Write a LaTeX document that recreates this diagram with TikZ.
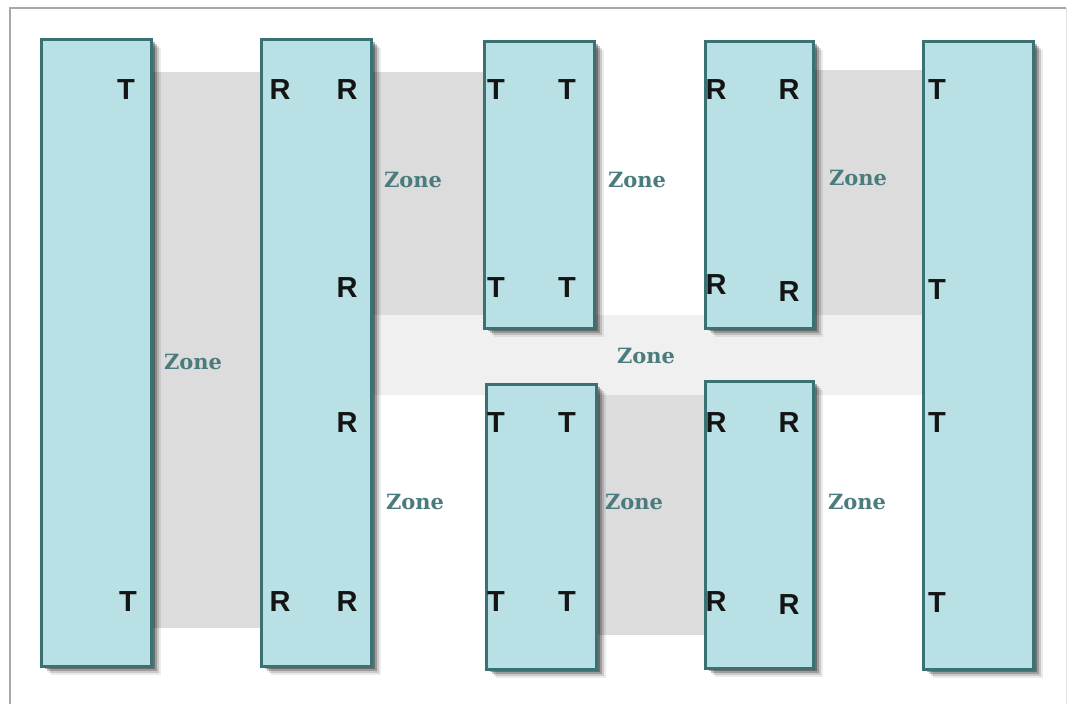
\documentclass[tikz,border=0pt]{standalone}
\usepackage{fontspec}
\setmainfont{Liberation Sans}
\newfontfamily\zonefont{DejaVu Serif}
\usetikzlibrary{shadows}
\definecolor{boxfill}{HTML}{B9E0E4}
\definecolor{boxedge}{HTML}{3A7273}
\definecolor{zonegray}{HTML}{DCDCDC}
\definecolor{zonelight}{HTML}{F0F0F0}
\definecolor{zonetext}{HTML}{4A7C7D}
\definecolor{frameline}{HTML}{A8A8A8}
\begin{document}
\begin{tikzpicture}[x=1pt,y=-1pt,
  box/.style={draw=boxedge, line width=2.5pt, fill=boxfill, inner sep=0pt, anchor=north west,
    drop shadow={shadow xshift=10pt, shadow yshift=-9pt, fill=black, opacity=0.08},
    drop shadow={shadow xshift=8pt, shadow yshift=-7pt, fill=black, opacity=0.14},
    drop shadow={shadow xshift=6pt, shadow yshift=-5pt, fill=black, opacity=0.22},
    drop shadow={shadow xshift=4pt, shadow yshift=-3pt, fill=black, opacity=0.3}},
  lbl/.style={font=\bfseries\fontsize{29}{29}\selectfont, inner sep=0pt, text=black!92},
  zonelbl/.style={font=\zonefont\bfseries\fontsize{21}{21}\selectfont, text=zonetext, inner sep=0pt}]
\useasboundingbox (0,0) rectangle (1071,704);
\fill[white] (0,0) rectangle (1071,704);
% frame
\draw[frameline, line width=1.8pt] (10,704) -- (10,8) -- (1066,8);
\draw[black!12, line width=1pt] (1066,8) -- (1066,704);
% zones
\fill[zonegray] (150,72) rectangle (260,628);
\fill[zonegray] (370,72) rectangle (483,317);
\fill[zonegray] (812,70) rectangle (922,315);
\fill[zonelight] (370,315) rectangle (922,395);
\fill[zonegray] (595,395) rectangle (704,635);
% boxes
\node[box, minimum width=110pt, minimum height=627pt] (b1) at (40,38) {};
\node[box, minimum width=110pt, minimum height=627pt] (b2) at (260,38) {};
\node[box, minimum width=110pt, minimum height=287pt] (b3) at (483,40) {};
\node[box, minimum width=108pt, minimum height=287pt] (b4) at (704,40) {};
\node[box, minimum width=110pt, minimum height=628pt] (b5) at (922,40) {};
\node[box, minimum width=110pt, minimum height=285pt] (b6) at (485,383) {};
\node[box, minimum width=108pt, minimum height=287pt] (b7) at (704,380) {};
% labels box1
\node[lbl] (t11) at (126,90) {T};
\node[lbl] (t12) at (128,602) {T};
% box2
\node[lbl] (r21) at (280,90) {R};
\node[lbl] (r22) at (347,90) {R};
\node[lbl] (r23) at (347,288) {R};
\node[lbl] (r24) at (347,423) {R};
\node[lbl] (r25) at (280,602) {R};
\node[lbl] (r26) at (347,602) {R};
% box3
\node[lbl] (t31) at (496,90) {T};
\node[lbl] (t32) at (567,90) {T};
\node[lbl] (t33) at (496,288) {T};
\node[lbl] (t34) at (567,288) {T};
% box4
\node[lbl] (r41) at (716,90) {R};
\node[lbl] (r42) at (789,90) {R};
\node[lbl] (r43) at (716,285) {R};
\node[lbl] (r44) at (789,292) {R};
% box5
\node[lbl] (t51) at (937,90) {T};
\node[lbl] (t52) at (937,290) {T};
\node[lbl] (t53) at (937,423) {T};
\node[lbl] (t54) at (937,603) {T};
% box6
\node[lbl] (t61) at (496,423) {T};
\node[lbl] (t62) at (567,423) {T};
\node[lbl] (t63) at (496,602) {T};
\node[lbl] (t64) at (567,602) {T};
% box7
\node[lbl] (r71) at (716,423) {R};
\node[lbl] (r72) at (789,423) {R};
\node[lbl] (r73) at (716,602) {R};
\node[lbl] (r74) at (789,605) {R};
% zone labels
\node[zonelbl] (z1) at (193,362) {Zone};
\node[zonelbl] (z2) at (413,180) {Zone};
\node[zonelbl] (z3) at (637,180) {Zone};
\node[zonelbl] (z4) at (858,178) {Zone};
\node[zonelbl] (z5) at (646,356) {Zone};
\node[zonelbl] (z6) at (415,502) {Zone};
\node[zonelbl] (z7) at (634,502) {Zone};
\node[zonelbl] (z8) at (857,502) {Zone};
\end{tikzpicture}
\end{document}
